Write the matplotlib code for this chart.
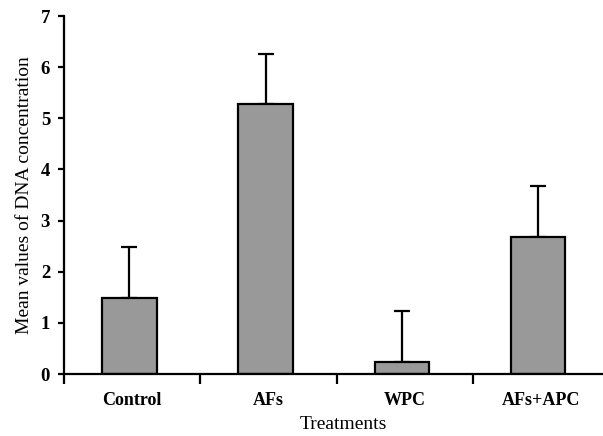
import matplotlib
matplotlib.use("Agg")
import matplotlib.pyplot as plt
import numpy as np

categories = ["Control", "AFs", "WPC", "AFs+APC"]
means = [1.49, 5.27, 0.23, 2.67]
errors = [0.99, 0.98, 1.01, 1.0]
yticks = [0, 1, 2, 3, 4, 5, 6, 7]

plt.rcParams['font.family'] = ['Liberation Serif', 'DejaVu Serif']

fig = plt.figure(figsize=(6.03, 4.36), dpi=100)
ax = fig.add_axes([64/603, 62/436, 545/603, 358/436])

x = np.arange(len(categories))
ax.bar(x - 0.02, means, width=0.40, color="#999999", edgecolor="black", linewidth=1.6, zorder=2)
ax.errorbar(x - 0.02, means, yerr=[np.zeros(len(errors)), errors], fmt='none',
            ecolor='black', elinewidth=1.6, capsize=6, capthick=1.6, zorder=1)

ax.set_xlim(-0.5, 3.5)
ax.set_ylim(0, 7)
ax.set_yticks(yticks)
ax.set_yticklabels([str(t) for t in yticks], fontweight='bold', fontsize=13.5)
ax.set_xticks(x)
ax.set_xticklabels(categories, fontweight='bold', fontsize=13)
ax.tick_params(axis='x', which='major', length=0, pad=13)
ax.set_xticks(np.arange(-0.5, 4.0, 1.0), minor=True)
ax.tick_params(axis='x', which='minor', length=7, width=1.6, direction='out')
ax.tick_params(axis='y', which='major', length=4, width=1.6, direction='out', pad=6)

for s in ['top', 'right']:
    ax.spines[s].set_visible(False)
for s in ['left', 'bottom']:
    ax.spines[s].set_linewidth(1.6)

ax.set_xlabel("Treatments", fontsize=14)
ax.xaxis.set_label_coords(0.513, -0.117)
ax.set_ylabel("Mean values of DNA concentration", fontsize=14)
ax.yaxis.set_label_coords(-0.057, 0.5)

fig.savefig("out.png", dpi=100)
